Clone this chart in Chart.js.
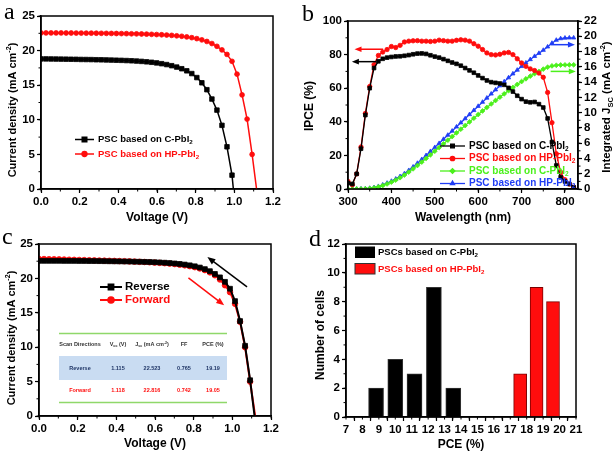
<!DOCTYPE html>
<html>
<head>
<meta charset="utf-8">
<script src="https://cdn.jsdelivr.net/npm/chart.js@4.4.1/dist/chart.umd.min.js"></script>
<style>
  body { margin: 0; background: #fff; }
  #wrap { position: relative; width: 616px; height: 453px; }
  #wrap canvas { position: absolute; left: 0; top: 0; }
</style>
</head>
<body>
<div id="wrap">
  <canvas id="chartA" width="616" height="453"></canvas>
  <canvas id="chartB" width="616" height="453"></canvas>
  <canvas id="chartC" width="616" height="453"></canvas>
  <canvas id="chartD" width="616" height="453"></canvas>
</div>
<script>
// ---- data ----

// panel a / c : J-V curves, voltage step of the scans
const voltage = [0.000,0.026,0.052,0.078,0.104,0.130,0.156,0.182,0.208,0.234,0.260,0.286,0.312,0.338,0.364,0.390,0.416,0.442,0.468,0.494,0.520,0.546,0.572,0.598,0.624,0.650,0.676,0.702,0.728,0.754,0.780,0.806,0.832,0.858,0.884,0.910,0.936,0.962,0.988,1.014,1.040,1.066,1.092];

const jscC = [18.80,18.80,18.79,18.78,18.77,18.76,18.75,18.74,18.72,18.71,18.70,18.68,18.67,18.65,18.63,18.61,18.59,18.56,18.53,18.49,18.44,18.38,18.31,18.22,18.11,17.98,17.82,17.62,17.38,17.08,16.68,16.10,15.35,14.35,13.00,11.40,9.20,6.10,2.00];
const vocC = 0.995;
const jscHP = [22.55,22.55,22.55,22.55,22.55,22.54,22.54,22.53,22.53,22.52,22.52,22.51,22.50,22.49,22.48,22.47,22.46,22.45,22.43,22.42,22.40,22.38,22.35,22.32,22.29,22.25,22.20,22.14,22.07,21.98,21.87,21.73,21.55,21.32,21.02,20.62,20.10,19.45,18.45,16.60,13.60,10.10,5.00];
const vocHP = 1.115;

const jscReverse = [22.55,22.55,22.55,22.55,22.55,22.54,22.54,22.54,22.53,22.53,22.52,22.52,22.51,22.50,22.49,22.48,22.47,22.46,22.45,22.43,22.42,22.40,22.38,22.35,22.32,22.28,22.23,22.17,22.10,22.01,21.90,21.76,21.58,21.35,21.05,20.65,20.15,19.50,18.50,16.70,13.80,10.20,5.20];
const vocReverse = 1.115;
const jscForward = [22.82,22.81,22.79,22.78,22.76,22.74,22.72,22.70,22.68,22.66,22.64,22.62,22.60,22.58,22.56,22.54,22.52,22.50,22.47,22.44,22.41,22.38,22.34,22.30,22.26,22.21,22.15,22.08,22.00,21.90,21.78,21.63,21.44,21.20,20.88,20.45,19.85,19.00,18.00,16.30,13.70,10.00,5.00];
const vocForward = 1.118;

const tableHeader = [['Scan Directions'], [['V',0],['oc',1],[' (V)',0]], [['J',0],['sc',1],[' (mA cm',0],['-2',-1],[')',0]], ['FF'], ['PCE (%)']];
const tableReverse = ['Reverse', '1.115', '22.523', '0.765', '19.19'];
const tableForward = ['Forward', '1.118', '22.816', '0.742', '19.05'];

// panel b : IPCE and integrated Jsc
const wavelength = [300,310,320,330,340,350,360,370,380,390,400,410,420,430,440,450,460,470,480,490,500,510,520,530,540,550,560,570,580,590,600,610,620,630,640,650,660,670,680,690,700,710,720,730,740,750,760,770,780,790,800,810,820];
const ipceC = [3.5,3,9,24,44,60,72,76,77.5,78.2,78.6,78.9,79,79.3,79.7,80.2,80.6,80.7,80.4,79.6,78.8,78.2,77.3,76.3,75.3,74.5,73.4,72,70.6,69.2,67.6,66,64.6,63.6,63.2,62.8,62,60.2,58,55.5,53.5,52,51.6,51.8,50.5,48.5,42,28,14,7,4.5,3,1];
const ipceHP = [4.5,2.5,9,25,45,61,74,79.5,81.5,83,84.8,84.2,85.5,87.5,88,88.2,88.3,88,88,87.8,88,88.6,88.3,88,88,88.5,88.8,88.6,88,86.5,85,83,81,80,79.8,80.2,81,81.3,80,77.5,75,73,71.5,70.5,69,66.5,57.5,39.5,21,10,5.5,3,1];
const intC = [0,0,0,0.01,0.03,0.07,0.15,0.28,0.45,0.66,0.9,1.17,1.48,1.83,2.22,2.64,3.08,3.53,4.0,4.47,4.95,5.43,5.91,6.39,6.87,7.35,7.83,8.31,8.79,9.27,9.75,10.22,10.68,11.14,11.59,12.03,12.46,12.88,13.29,13.69,14.07,14.43,14.78,15.1,15.4,15.7,15.95,16.12,16.2,16.24,16.25,16.26,16.26];
const intHP = [0,0,0,0.02,0.05,0.1,0.2,0.35,0.55,0.78,1.03,1.32,1.65,2.02,2.44,2.9,3.38,3.88,4.4,4.93,5.45,5.98,6.52,7.06,7.6,8.14,8.68,9.22,9.76,10.3,10.84,11.38,11.92,12.46,13.0,13.53,14.06,14.58,15.09,15.58,16.06,16.52,16.96,17.38,17.78,18.18,18.62,19.1,19.5,19.7,19.78,19.8,19.8];

// panel d : PCE histogram
const pceBinsC = [8.83, 10.0, 11.17, 12.35, 13.53];
const countsC = [2, 4, 3, 9, 2];
const pceBinsHP = [17.6, 18.6, 19.6];
const countsHP = [3, 9, 8];

const legendA = ['PSC based on C-PbI', 'PSC based on HP-PbI'];
const legendB = ['PSC based on C-PbI', 'PSC based on HP-PbI', 'PSC based on C-PbI', 'PSC based on HP-PbI'];
const legendC = ['Reverse', 'Forward'];
const legendD = ['PSCs based on C-PbI', 'PSCs based on HP-PbI'];

// ---- helpers ----
const FAM = '"Liberation Sans", Arial, sans-serif';
const RED = '#ff0d0d', GREEN = '#4cf01c', BLUE = '#1f3df5';
Chart.defaults.font.family = FAM;
Chart.defaults.font.weight = 'bold';

function pairs(xs, ys, endX) {
    let pts = ys.map((y, i) => ({ x: xs[i], y }));
    if (endX !== undefined) pts.push({ x: endX, y: 0 });
    return pts;
}

function axis(pos, min, max, step, size, fmt, extra) {
    return Object.assign({
        type: 'linear', position: pos, min, max,
        afterFit: s => { if (s.isHorizontal()) s.height = size; else s.width = size; },
        border: { display: true, color: '#000', width: 1.5 },
        grid: { drawOnChartArea: false, drawTicks: true, tickLength: 4, tickWidth: 1.2, tickColor: '#000' },
        ticks: { stepSize: step, color: '#000', padding: 2, autoSkip: false, maxRotation: 0,
                 font: { size: 11.5, weight: 'bold' }, callback: v => fmt(v) },
    }, extra || {});
}

function lineSet(pts, color, style, radius, width, axisId) {
    const last = pts.length - 1;
    return {
        data: pts, yAxisID: axisId || 'y',
        borderColor: color, backgroundColor: color, borderWidth: width,
        pointStyle: style, pointBorderWidth: 0.8,
        pointRadius: ctx => (ctx.dataIndex === last && pts[last].y === 0 ? 0 : radius),
        tension: 0, fill: false,
    };
}

function richText(ctx, parts, x, y, size, color, align, rot, weight) {
    ctx.save();
    ctx.translate(x, y);
    if (rot) ctx.rotate(rot);
    ctx.fillStyle = color;
    ctx.textBaseline = 'middle';
    ctx.textAlign = 'left';
    const w8 = weight || 'bold';
    const runs = parts.map(p => {
        const t = typeof p === 'string' ? p : p[0];
        const k = typeof p === 'string' ? 0 : (p[1] || 0);
        const fs = k ? size * 0.65 : size;
        ctx.font = `${w8} ${fs}px ${FAM}`;
        return { t, k, fs, w: ctx.measureText(t).width };
    });
    const total = runs.reduce((s, r) => s + r.w, 0);
    let cx = align === 'center' ? -total / 2 : align === 'right' ? -total : 0;
    for (const r of runs) {
        ctx.font = `${w8} ${r.fs}px ${FAM}`;
        ctx.fillText(r.t, cx, r.k === 1 ? size * 0.3 : r.k === -1 ? -size * 0.35 : 0);
        cx += r.w;
    }
    ctx.restore();
}

function arrow(ctx, x1, y1, x2, y2, color, width, head) {
    const ang = Math.atan2(y2 - y1, x2 - x1);
    ctx.save();
    ctx.strokeStyle = color; ctx.fillStyle = color; ctx.lineWidth = width;
    ctx.beginPath();
    ctx.moveTo(x1, y1);
    ctx.lineTo(x2 - Math.cos(ang) * head * 0.8, y2 - Math.sin(ang) * head * 0.8);
    ctx.stroke();
    ctx.beginPath();
    ctx.moveTo(x2, y2);
    ctx.lineTo(x2 - head * Math.cos(ang) + head * 0.4 * Math.sin(ang), y2 - head * Math.sin(ang) - head * 0.4 * Math.cos(ang));
    ctx.lineTo(x2 - head * Math.cos(ang) - head * 0.4 * Math.sin(ang), y2 - head * Math.sin(ang) + head * 0.4 * Math.cos(ang));
    ctx.closePath();
    ctx.fill();
    ctx.restore();
}

function legendLine(ctx, x1, x2, y, color, style, radius, width, label, size) {
    ctx.save();
    ctx.strokeStyle = color; ctx.fillStyle = color; ctx.lineWidth = width;
    ctx.beginPath(); ctx.moveTo(x1, y); ctx.lineTo(x2, y); ctx.stroke();
    Chart.helpers.drawPoint(ctx, { pointStyle: style, radius, rotation: 0, borderWidth: 0.8 }, (x1 + x2) / 2, y);
    ctx.restore();
    richText(ctx, [label, ['2', 1]], x2 + 4, y, size, color, 'left');
}

// frame, minor ticks and panel letter; extra() draws the rest
function decor(minor, letter, extra) {
    return {
        id: 'decor',
        afterDraw(chart) {
            const ctx = chart.ctx, a = chart.chartArea;
            ctx.save();
            ctx.strokeStyle = '#000';
            ctx.lineWidth = 1.5;
            ctx.strokeRect(a.left, a.top, a.width, a.height);
            ctx.lineWidth = 1;
            ctx.beginPath();
            for (const id in minor) {
                const s = chart.scales[id];
                for (let v = s.min; v <= s.max + 1e-9; v += minor[id]) {
                    const p = s.getPixelForValue(v);
                    if (s.position === 'bottom') { ctx.moveTo(p, a.bottom); ctx.lineTo(p, a.bottom + 2.5); }
                    else if (s.position === 'left') { ctx.moveTo(a.left, p); ctx.lineTo(a.left - 2.5, p); }
                    else { ctx.moveTo(a.right, p); ctx.lineTo(a.right + 2.5, p); }
                }
            }
            ctx.stroke();
            ctx.fillStyle = '#000';
            ctx.font = `24px "Liberation Serif", "Times New Roman", serif`;
            ctx.textBaseline = 'alphabetic';
            ctx.fillText(letter[0], letter[1], letter[2]);
            ctx.restore();
            extra(chart, ctx);
        }
    };
}

function baseOptions(pad, scales) {
    return {
        responsive: false, animation: false, devicePixelRatio: 1,
        layout: { padding: pad },
        plugins: { legend: { display: false }, tooltip: { enabled: false } },
        scales,
    };
}

const f1 = v => v.toFixed(1);
const f0 = v => String(Math.round(v));
const currentTitle = ['Current density (mA cm', ['-2', -1], ')'];

// ---- panel a ----
new Chart(document.getElementById('chartA'), {
    type: 'line',
    data: { datasets: [
        lineSet(pairs(voltage, jscC, vocC), '#000', 'rect', 3.2, 1.5),
        lineSet(pairs(voltage, jscHP, vocHP), RED, 'circle', 2.4, 1.5),
    ] },
    options: baseOptions({ left: 5, top: 16, right: 343, bottom: 234 }, {
        x: axis('bottom', 0, 1.2, 0.2, 30, f1),
        y: axis('left', 0, 25, 5, 36, f0),
    }),
    plugins: [decor({ x: 0.1, y: 2.5 }, ['a', 4, 19], (chart, ctx) => {
        richText(ctx, currentTitle, 13, 110, 11, '#000', 'center', -Math.PI / 2);
        richText(ctx, ['Voltage (V)'], 157, 218, 12, '#000', 'center');
        legendLine(ctx, 75, 94, 139.5, '#000', 'rect', 3.2, 1.5, legendA[0], 9.5);
        legendLine(ctx, 75, 94, 154, RED, 'circle', 2.4, 1.5, legendA[1], 9.5);
    })],
});

// ---- panel b ----
new Chart(document.getElementById('chartB'), {
    type: 'line',
    data: { datasets: [
        lineSet(pairs(wavelength, ipceC), '#000', 'rect', 2.6, 1.3),
        lineSet(pairs(wavelength, ipceHP), RED, 'circle', 2.2, 1.3),
        lineSet(pairs(wavelength, intC), GREEN, 'rectRot', 2.4, 1.3, 'y1'),
        lineSet(pairs(wavelength, intHP), BLUE, 'triangle', 2.4, 1.3, 'y1'),
    ] },
    options: baseOptions({ left: 312, top: 21, right: 8, bottom: 234 }, {
        x: axis('bottom', 300, 830, 100, 30, f0),
        y: axis('left', 0, 100, 20, 36, f0),
        y1: axis('right', 0, 22, 2, 30, f0),
    }),
    plugins: [decor({ x: 50, y: 10, y1: 1 }, ['b', 302, 21], (chart, ctx) => {
        const sx = chart.scales.x, sy = chart.scales.y, sr = chart.scales.y1;
        arrow(ctx, sx.getPixelForValue(381), sy.getPixelForValue(83.2), sx.getPixelForValue(315), sy.getPixelForValue(83.2), RED, 1.5, 7);
        arrow(ctx, sx.getPixelForValue(365), sy.getPixelForValue(75.8), sx.getPixelForValue(309), sy.getPixelForValue(75.8), '#000', 1.5, 7);
        arrow(ctx, sx.getPixelForValue(767), sr.getPixelForValue(18.9), sx.getPixelForValue(823), sr.getPixelForValue(18.9), BLUE, 1.5, 7);
        arrow(ctx, sx.getPixelForValue(767), sr.getPixelForValue(15.4), sx.getPixelForValue(825), sr.getPixelForValue(15.4), GREEN, 1.5, 7);
        richText(ctx, ['IPCE (%)'], 310, 106, 12, '#000', 'center', -Math.PI / 2);
        richText(ctx, ['Wavelength (nm)'], 463, 218, 12, '#000', 'center');
        richText(ctx, ['Integrated J', ['SC', 1], ' (mA cm', ['-2', -1], ')'], 607, 107, 11.5, '#000', 'center', -Math.PI / 2);
        legendLine(ctx, 440, 465, 146, '#000', 'rect', 2.6, 1.3, legendB[0], 10);
        legendLine(ctx, 440, 465, 158.5, RED, 'circle', 2.2, 1.3, legendB[1], 10);
        legendLine(ctx, 440, 465, 171, GREEN, 'rectRot', 2.4, 1.3, legendB[2], 10);
        legendLine(ctx, 440, 465, 183.5, BLUE, 'triangle', 2.4, 1.3, legendB[3], 10);
    })],
});
// the x axis of b has no 830 label
Chart.getChart('chartB').options.scales.x.ticks.includeBounds = false;
Chart.getChart('chartB').update();

// ---- panel c ----
new Chart(document.getElementById('chartC'), {
    type: 'line',
    data: { datasets: [
        lineSet(pairs(voltage, jscReverse, vocReverse), '#000', 'rect', 3.4, 2),
        lineSet(pairs(voltage, jscForward, vocForward), RED, 'circle', 2.8, 2),
    ] },
    options: baseOptions({ left: 3, top: 244, right: 345, bottom: 7 }, {
        x: axis('bottom', 0, 1.2, 0.2, 30, f1),
        y: axis('left', 0, 25, 5, 36, f0),
    }),
    plugins: [decor({ x: 0.1, y: 2.5 }, ['c', 2, 244], (chart, ctx) => {
        const sx = chart.scales.x, sy = chart.scales.y;
        // table
        ctx.save();
        ctx.fillStyle = '#c9dcf2';
        ctx.fillRect(59, 356, 168, 24);
        ctx.strokeStyle = '#8fd86a';
        ctx.lineWidth = 1.5;
        ctx.beginPath();
        ctx.moveTo(59, 333.5); ctx.lineTo(227, 333.5);
        ctx.moveTo(59, 402.5); ctx.lineTo(227, 402.5);
        ctx.stroke();
        ctx.restore();
        const cols = [80, 118, 152, 184, 213];
        tableHeader.forEach((h, i) => richText(ctx, h, cols[i], 344.7, 5.5, '#333', 'center'));
        tableReverse.forEach((t, i) => richText(ctx, [t], cols[i], 368, 5.5, '#1f3566', 'center'));
        tableForward.forEach((t, i) => richText(ctx, [t], cols[i], 390.7, 5.5, RED, 'center'));
        // scan direction arrows
        arrow(ctx, sx.getPixelForValue(1.076), sy.getPixelForValue(18.77), sx.getPixelForValue(0.871), sy.getPixelForValue(23.1), '#000', 1.5, 8);
        arrow(ctx, sx.getPixelForValue(0.773), sy.getPixelForValue(20.07), sx.getPixelForValue(0.958), sy.getPixelForValue(16.1), RED, 1.5, 8);
        richText(ctx, currentTitle, 12, 338, 11, '#000', 'center', -Math.PI / 2);
        richText(ctx, ['Voltage (V)'], 155, 444, 12, '#000', 'center');
        ctx.save();
        [['#000', 'rect', 3.4, 287], [RED, 'circle', 2.8, 300]].forEach((s, i) => {
            ctx.strokeStyle = s[0]; ctx.fillStyle = s[0]; ctx.lineWidth = 2;
            ctx.beginPath(); ctx.moveTo(100, s[3]); ctx.lineTo(122, s[3]); ctx.stroke();
            Chart.helpers.drawPoint(ctx, { pointStyle: s[1], radius: s[2], rotation: 0, borderWidth: 0.8 }, 111, s[3]);
            richText(ctx, [legendC[i]], 125, s[3], 11.5, s[0], 'left');
        });
        ctx.restore();
    })],
});

// ---- panel d ----
new Chart(document.getElementById('chartD'), {
    type: 'bar',
    data: { datasets: [
        { data: pairs(pceBinsC, countsC), backgroundColor: '#000', borderColor: '#333', borderWidth: 1, barThickness: 15, grouped: false },
        { data: pairs(pceBinsHP, countsHP), backgroundColor: RED, borderColor: '#7a0000', borderWidth: 1, barThickness: 13, grouped: false },
    ] },
    options: baseOptions({ left: 310, top: 244, right: 40, bottom: 6 }, {
        x: axis('bottom', 7, 21, 1, 30, f0, { offset: false }),
        y: axis('left', 0, 12, 2, 36, f0),
    }),
    plugins: [decor({ x: 0.5, y: 1 }, ['d', 309, 246], (chart, ctx) => {
        richText(ctx, ['Number of cells'], 321, 335, 12, '#000', 'center', -Math.PI / 2);
        richText(ctx, ['PCE (%)'], 461, 445, 12, '#000', 'center');
        ctx.save();
        ctx.fillStyle = '#000'; ctx.fillRect(355, 246.5, 20, 11.5);
        ctx.fillStyle = RED; ctx.fillRect(355, 263.5, 20, 10.5);
        ctx.strokeStyle = '#333'; ctx.lineWidth = 1;
        ctx.strokeRect(355, 263.5, 20, 10.5);
        ctx.restore();
        richText(ctx, [legendD[0], ['2', 1]], 378, 252, 9.5, '#000', 'left');
        richText(ctx, [legendD[1], ['2', 1]], 378, 269, 9.5, RED, 'left');
    })],
});
</script>
</body>
</html>
